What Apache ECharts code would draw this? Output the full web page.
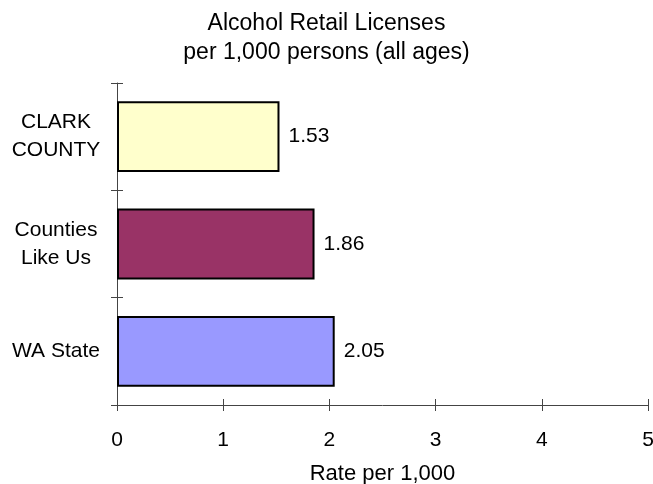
<!DOCTYPE html>
<html>
<head>
<meta charset="utf-8">
<script src="https://cdn.jsdelivr.net/npm/echarts@6/dist/echarts.min.js"></script>
<style>html,body{margin:0;padding:0;background:#fff;overflow:hidden}#c{width:653px;height:484px}</style>
</head>
<body>
<div id="c"></div>
<script>
var categories = ['WA State', 'Counties\nLike Us', 'CLARK\nCOUNTY'];
var values = [2.05, 1.86, 1.53];
var barColors = ['#9999FF', '#993366', '#FFFFCC'];
var xTicks = [0, 1, 2, 3, 4, 5];

var chart = echarts.init(document.getElementById('c'));
var font = 'Liberation Sans, Arial, sans-serif';
var lineColor = '#444';
chart.setOption({
  animation: false,
  title: {
    text: 'Alcohol Retail Licenses\nper 1,000 persons (all ages)',
    left: 'center', top: 4,
    textStyle: { fontFamily: font, fontSize: 23, fontWeight: 'normal', color: '#000', lineHeight: 29 }
  },
  grid: { left: 117, right: 5, top: 83, bottom: 79, outerBoundsMode: 'none', containLabel: false },
  xAxis: [{
    type: 'value', min: xTicks[0], max: xTicks[xTicks.length - 1], interval: 1,
    name: 'Rate per 1,000', nameLocation: 'middle', nameGap: 58,
    nameTextStyle: { fontFamily: font, fontSize: 22, color: '#000' },
    axisLine: { show: true, lineStyle: { color: lineColor, width: 1 } },
    axisTick: { show: false },
    axisLabel: { fontFamily: font, fontSize: 21, color: '#000', margin: 25 },
    splitLine: { show: false }
  }, {
    type: 'value', min: xTicks[0], max: xTicks[xTicks.length - 1], interval: 1,
    position: 'bottom', offset: -6,
    axisLine: { show: false },
    axisTick: { show: true, length: 12, lineStyle: { color: lineColor, width: 1 } },
    axisLabel: { show: false }, splitLine: { show: false }
  }],
  yAxis: [{
    type: 'category', data: categories,
    axisLine: { show: true, lineStyle: { color: lineColor, width: 1 } },
    axisTick: { show: false },
    axisLabel: { fontFamily: font, fontSize: 21, color: '#000', align: 'center', margin: 61, lineHeight: 28 }
  }, {
    type: 'category', data: categories, position: 'left', offset: -6,
    axisLine: { show: false },
    axisTick: { show: true, length: 12, lineStyle: { color: lineColor, width: 1 } },
    axisLabel: { show: false }
  }],
  series: [{
    type: 'bar',
    data: values.map(function (v, i) { return { value: v, itemStyle: { color: barColors[i] } }; }),
    barCategoryGap: '34%',
    itemStyle: { borderColor: '#000', borderWidth: 2 },
    label: { show: true, position: 'right', distance: 9, fontFamily: font, fontSize: 21, color: '#000',
      formatter: function (p) { return p.value.toFixed(2); } }
  }]
});
</script>
</body>
</html>
